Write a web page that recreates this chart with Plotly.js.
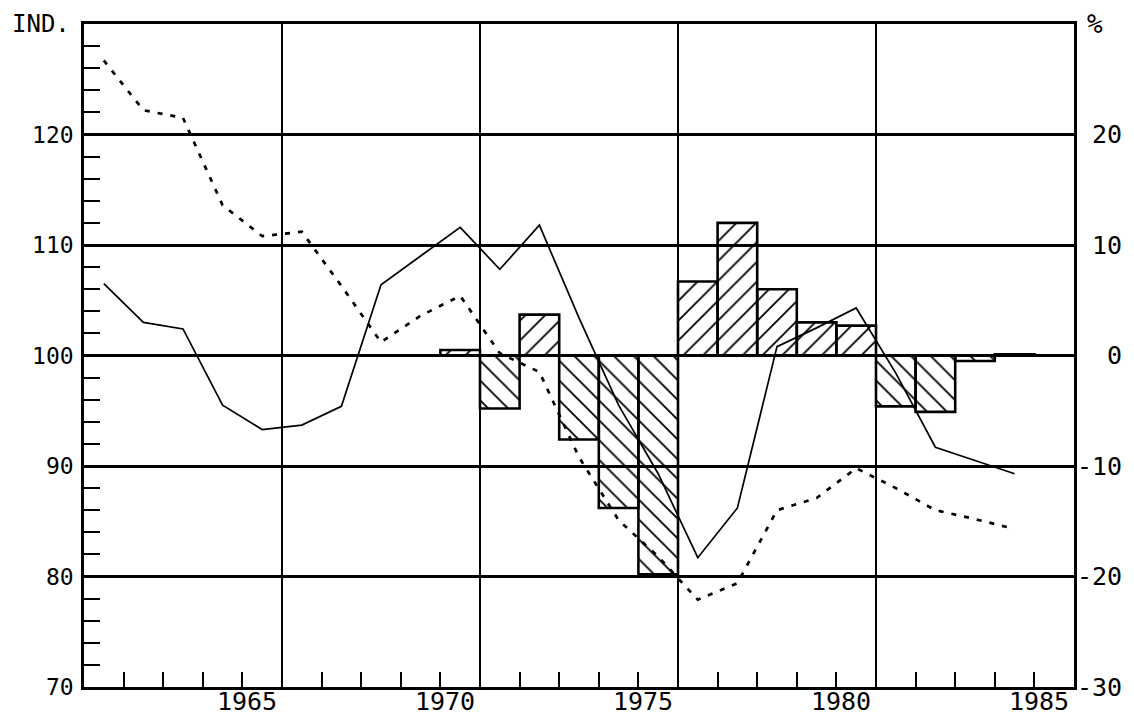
<!DOCTYPE html>
<html>
<head>
<meta charset="utf-8">
<script src="https://cdn.plot.ly/plotly-3.0.1.min.js"></script>
<style>
  html, body { margin: 0; padding: 0; background: #ffffff; }
  #chart { width: 1134px; height: 719px; }
</style>
</head>
<body>
<div id="chart"></div>
<script>
// ---- data ----
const years = [1961,1962,1963,1964,1965,1966,1967,1968,1969,1970,1971,1972,
               1973,1974,1975,1976,1977,1978,1979,1980,1981,1982,1983,1984];
const indexSolid = [106.5,103.0,102.4,95.5,93.3,93.7,95.4,106.4,109.0,111.6,107.8,111.8,
                    103.4,95.5,89.3,81.7,86.2,100.8,102.5,104.3,98.4,91.7,90.5,89.3];
const indexDotted = [126.7,122.2,121.5,113.6,110.8,111.2,106.3,101.2,103.6,105.4,100.2,98.5,
                     90.8,85.1,81.8,77.9,79.4,86.0,87.1,89.8,88.0,86.0,85.2,84.3];
const barYears = [1970,1971,1972,1973,1974,1975,1976,1977,1978,1979,1980,1981,1982,1983,1984];
const pctChange = [0.5,-4.8,3.7,-7.6,-13.8,-19.8,6.7,12.0,6.0,3.0,2.7,-4.6,-5.1,-0.5,0.1];

const xTickLabels = ["1965","1970","1975","1980","1985"];
const leftTickVals = [70,80,90,100,110,120,130];
const leftTickLabels = ["70","80","90","100","110","120",""];
const rightTickVals = [-30,-20,-10,0,10,20];
const rightTickLabels = ["-30","-20","-10","\u00a0\u00a00","\u00a010","\u00a020"];

// ---- chart ----
const FONT = "DejaVu Sans Mono, monospace";

const traces = [
  {
    type: "scatter", mode: "lines", x: years, y: indexSolid,
    line: { color: "#000", width: 1.7 }, xaxis: "x", yaxis: "y", hoverinfo: "skip"
  },
  {
    type: "scatter", mode: "lines", x: years, y: indexDotted,
    line: { color: "#000", width: 2.7, dash: "5px,8px" }, xaxis: "x", yaxis: "y", hoverinfo: "skip"
  },
  {
    type: "bar", x: barYears, y: pctChange, width: 1, xaxis: "x", yaxis: "y2",
    marker: {
      color: "rgba(255,255,255,0)",
      line: { color: "#000", width: 2.6 },
      pattern: {
        shape: pctChange.map(v => v >= 0 ? "/" : "\\"),
        fgcolor: "#000", bgcolor: "rgba(0,0,0,0)",
        size: 14, solidity: 0.13, fillmode: "replace"
      }
    },
    hoverinfo: "skip"
  }
];

const layout = {
  width: 1134, height: 719,
  margin: { l: 84, r: 60, t: 24, b: 32 },
  paper_bgcolor: "#fff", plot_bgcolor: "#fff",
  showlegend: false, bargap: 0,
  font: { family: FONT, color: "#000" },
  xaxis: {
    range: [1960.5, 1985.5],
    tickvals: xTickLabels.map(l => Number(l) + 0.5),
    ticktext: xTickLabels,
    ticklabelshift: -35,
    ticklabelstandoff: -10,
    ticks: "inside", ticklen: 15, tickwidth: 2, tickcolor: "#000",
    tickfont: { family: FONT, size: 25, color: "#000" },
    showgrid: true, gridcolor: "#000", gridwidth: 1.6,
    zeroline: false,
    showline: true, linecolor: "#000", linewidth: 2.8, mirror: true,
    minor: { tick0: 1960.5, dtick: 1, ticks: "inside", ticklen: 15, tickwidth: 2, tickcolor: "#000", showgrid: false },
    fixedrange: true
  },
  yaxis: {
    range: [70, 130],
    tickvals: leftTickVals, ticktext: leftTickLabels,
    ticks: "inside", ticklen: 16, tickwidth: 2, tickcolor: "#000",
    ticklabelstandoff: 3,
    tickfont: { family: FONT, size: 23, color: "#000" },
    showgrid: true, gridcolor: "#000", gridwidth: 3,
    zeroline: false,
    showline: true, linecolor: "#000", linewidth: 2.8, mirror: true,
    minor: { dtick: 2, ticks: "inside", ticklen: 16, tickwidth: 2, tickcolor: "#000", showgrid: false },
    fixedrange: true
  },
  yaxis2: {
    range: [-30, 30], overlaying: "y", side: "right",
    tickvals: rightTickVals, ticktext: rightTickLabels,
    ticks: "", showgrid: false, zeroline: false, showline: false,
    ticklabelstandoff: 2,
    tickfont: { family: FONT, size: 25, color: "#000" },
    fixedrange: true
  },
  annotations: [
    { text: "IND.", xref: "paper", yref: "paper", x: -0.012, y: 1.0, xanchor: "right", yanchor: "middle",
      showarrow: false, font: { family: FONT, size: 24, color: "#000" } },
    { text: "%", xref: "paper", yref: "paper", x: 1.011, y: 1.0, xanchor: "left", yanchor: "middle",
      showarrow: false, font: { family: FONT, size: 26, color: "#000" } }
  ]
};

Plotly.newPlot("chart", traces, layout, { staticPlot: true, displayModeBar: false });
</script>
</body>
</html>
